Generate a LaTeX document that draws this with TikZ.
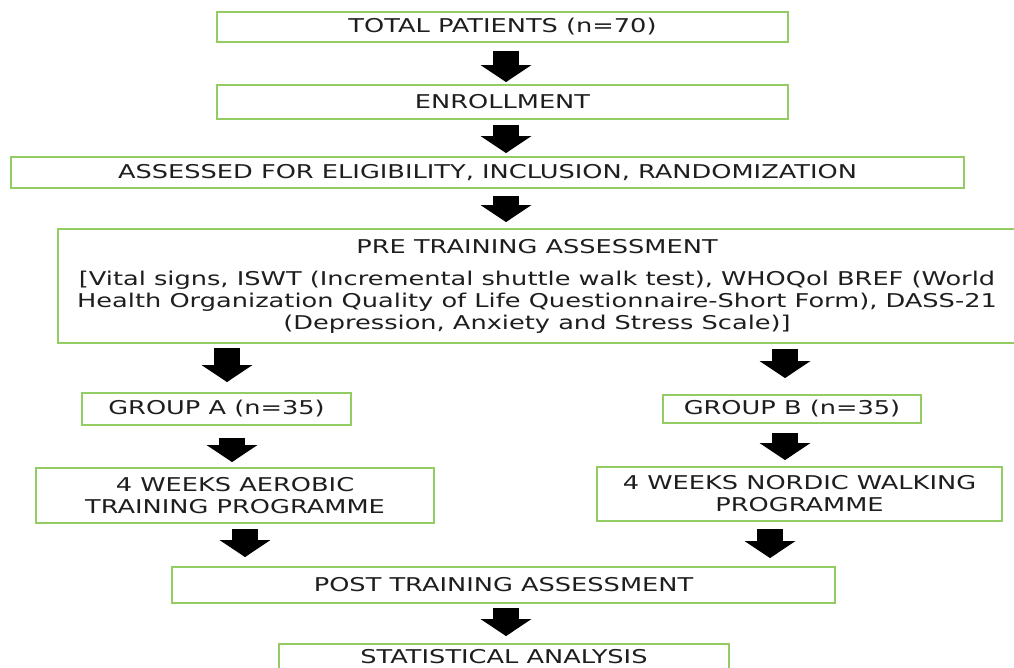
\documentclass[tikz,border=0pt]{standalone}
\usepackage{fontspec}
\setmainfont{DejaVu Sans}[FakeStretch=1.35]
\usetikzlibrary{arrows.meta,calc}
\definecolor{boxgreen}{RGB}{146,204,98}
\definecolor{txt}{RGB}{30,30,30}
\begin{document}
\begin{tikzpicture}[x=1pt,y=-1pt,
  box/.style={draw=boxgreen,line width=1.8pt,fill=white,inner sep=0pt,align=center,
    text=txt,font=\fontsize{19}{22}\selectfont},
  barrow/.style={draw=black,line width=26pt,-{Triangle[width=50pt,length=17pt]}}]
\useasboundingbox (0,0) rectangle (1014,668);
\clip (0,0) rectangle (1014,668);
\fill[white] (0,0) rectangle (1014,668);
\node[box,minimum width=571,minimum height=30] (t1) at (502.5,27) {TOTAL PATIENTS (n=70)};
\node[box,minimum width=571,minimum height=34] (t2) at (502.5,102) {ENROLLMENT};
\node[box,minimum width=953,minimum height=31] (t3) at (487.5,172.5) {ASSESSED FOR ELIGIBILITY, INCLUSION, RANDOMIZATION};
\node[box,minimum width=958,minimum height=114] (pre) at (537,286) {PRE TRAINING ASSESSMENT\\[10pt]{[}Vital signs, ISWT (Incremental shuttle walk test), WHOQol BREF (World\\Health Organization Quality of Life Questionnaire-Short Form), DASS-21\\(Depression, Anxiety and Stress Scale)]};
\node[box,minimum width=269,minimum height=32] (ga) at (216.5,409) {GROUP A (n=35)};
\node[box,minimum width=258,minimum height=28] (gb) at (792,409) {GROUP B (n=35)};
\node[box,minimum width=398,minimum height=55] (ae) at (235,495.5) {4 WEEKS AEROBIC\\TRAINING PROGRAMME};
\node[box,minimum width=405,minimum height=54] (nw) at (799.5,494) {4 WEEKS NORDIC WALKING\\PROGRAMME};
\node[box,minimum width=663,minimum height=36] (post) at (503.5,585) {POST TRAINING ASSESSMENT};
\node[box,minimum width=450,minimum height=26] (stat) at (504,657) {STATISTICAL ANALYSIS};
\draw[barrow] ($(t1.south)+(3.5,8)$) -- ($(t2.north)+(3.5,-2)$);
\draw[barrow] ($(t2.south)+(3.5,5)$) -- ($(t3.north -| t2.south)+(3.5,-3)$);
\draw[barrow] ($(t3.south -| t1.south)+(3.5,7)$) -- ($(pre.north -| t1.south)+(3.5,-6)$);
\draw[barrow] ($(pre.south -| ga.north)+(10.5,4)$) -- ($(ga.north)+(10.5,-10)$);
\draw[barrow] ($(pre.south -| gb.north)+(-7,5)$) -- ($(gb.north)+(-7,-16)$);
\draw[barrow] ($(ga.south)+(15.5,12)$) -- ($(ae.north -| ga.south)+(15.5,-5)$);
\draw[barrow] ($(gb.south)+(-7,9)$) -- ($(nw.north -| gb.south)+(-7,-6)$);
\draw[barrow] ($(ae.south)+(10,5)$) -- ($(post.north -| ae.south)+(10,-9)$);
\draw[barrow] ($(nw.south)+(-29.5,7)$) -- ($(post.north -| nw.south)+(-29.5,-8)$);
\draw[barrow] ($(post.south)+(2.5,4)$) -- ($(stat.north -| post.south)+(2.5,-7)$);
\end{tikzpicture}
\end{document}
